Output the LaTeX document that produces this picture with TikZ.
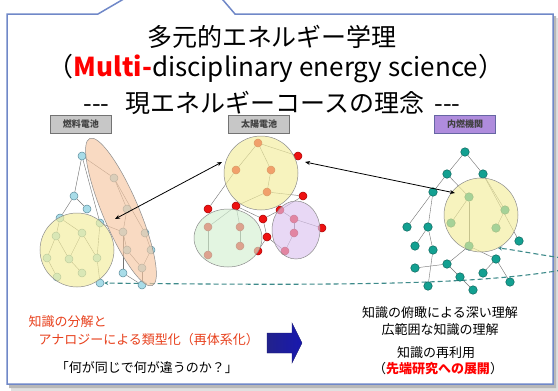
\documentclass[tikz,border=0pt]{standalone}
\usepackage{fontspec}
\setmainfont{Noto Sans CJK JP}
\usetikzlibrary{arrows.meta,positioning,calc}

\definecolor{framecol}{HTML}{7088C8}
\definecolor{fcfill}{HTML}{A8DCE8}
\definecolor{fcline}{HTML}{5F8F9F}
\definecolor{scfill}{HTML}{EE1111}
\definecolor{scline}{HTML}{AA0000}
\definecolor{icfill}{HTML}{13A091}
\definecolor{icline}{HTML}{0B655C}
\definecolor{yellowreg}{HTML}{F4EE9C}
\definecolor{orangereg}{HTML}{F6C7A2}
\definecolor{greenreg}{HTML}{D4F0D2}
\definecolor{purplereg}{HTML}{DDC4F0}
\definecolor{dashcol}{HTML}{3D8A8A}
\definecolor{textred}{HTML}{E8401C}
\definecolor{navy}{HTML}{22228C}

\pgfdeclarelayer{bg}
\pgfsetlayers{bg,main}

\begin{document}
\begin{tikzpicture}[x=1pt,y=-1pt,
    fcnode/.style={circle,draw=fcline,fill=fcfill,inner sep=0pt,minimum size=8pt,line width=0.5pt},
    scnode/.style={circle,draw=scline,fill=scfill,inner sep=0pt,minimum size=8pt,line width=0.5pt},
    icnode/.style={circle,draw=icline,fill=icfill,inner sep=0pt,minimum size=8.5pt,line width=0.5pt},
    edge/.style={draw=black!55,line width=0.4pt},
    region/.style={draw=black!45,line width=0.5pt,fill opacity=0.65},
    tag/.style={draw=black!55,fill=black!22,inner sep=0pt,minimum width=61pt,minimum height=18pt,font=\fontsize{9}{10}\selectfont\bfseries,text=black!75},
    link/.style={{Stealth[length=5pt,width=4pt]}-{Stealth[length=5pt,width=4pt]},line width=0.8pt},
    flow/.style={dashcol,line width=1.1pt,dash pattern=on 5pt off 3pt}]
    \useasboundingbox (0,0) rectangle (558,391);
    \clip (0,0) rectangle (558,391);

    % title
    \node (title) at (272,37) {\fontsize{25}{30}\selectfont 多元的エネルギー学理};
    \node (subtitle) at (276,69) {\fontsize{26}{30}\selectfont （{\bfseries\color{red}Multi-}disciplinary energy science）};
    \node (motto) at (272,103) {\fontsize{25}{30}\selectfont -{}-{}-\hspace{16pt}現エネルギーコースの理念\hspace{10pt}-{}-{}-};

    % tags
    \node[tag] (fctag) at (81,124) {燃料電池};
    \node[tag] (sctag) at (259,124) {太陽電池};
    \node[tag,fill=blue!40!violet!45,draw=blue!40!black!60] (ictag) at (465,124) {内燃機関};

    % fuel cell
    \foreach \n/\x/\y in {0/82/156,1/74/196,2/87/209,3/60/218,4/100/223,5/56/236,6/82/233,
      7/47/258,8/69/259,9/97/258,10/57/277,11/82/273,12/100/283,13/123/273,14/142/285,
      15/114/178,16/127/209,17/123/232,18/145/233,19/127/250,20/151/250,21/142/268}
      \node[fcnode] (fc\n) at (\x,\y) {};

    % solar cell
    \foreach \n/\x/\y in {0/258/143,1/298/156,2/236/170,3/271/170,4/267/192,5/303/196,
      6/208/209,7/236/206,8/280/210,9/263/219,10/294/219,11/322/228,12/294/233,
      13/208/227,14/240/227,15/267/237,16/240/246,17/208/255,18/258/251,19/285/251}
      \node[scnode] (sc\n) at (\x,\y) {};

    % internal combustion engine
    \foreach \n/\x/\y in {0/465/152,1/447/174,2/483/174,3/433/192,4/469/197,5/505/210,
      6/451/223,7/496/228,8/469/246,9/519/241,10/407/227,11/428/227,12/415/246,
      13/433/250,14/415/268,15/447/264,16/460/277,17/483/273,18/496/259,19/510/282,
      20/428/286,21/473/290}
      \node[icnode] (ic\n) at (\x,\y) {};

    \coordinate (flowend) at (562,270);
    \coordinate (flowtop) at (562,258);
    \coordinate (fcin) at (115,219);
    \coordinate (scinl) at (222,162);
    \coordinate (scinr) at (305,162);
    \coordinate (icin) at (455,193);

    \begin{pgfonlayer}{bg}
      % frame with shadow
      \fill[black!12] (11,18) -- (102,18) -- (150,-10) -- (215,-10) -- (239,18) -- (558,18) -- (558,391) -- (11,391) -- cycle;
      \fill[black!28] (9,16) -- (100,16) -- (148,-12) -- (213,-12) -- (237,16) -- (556,16) -- (556,388) -- (9,388) -- cycle;
      \draw[framecol,fill=white,line width=1.5pt] (7,14) -- (98,14) -- (146,-14) -- (211,-14) -- (235,14) -- (553,14) -- (553,384) -- (7,384) -- cycle;

      \foreach \u/\v in {0/1,0/4,0/15,1/2,1/3,3/5,3/6,5/7,5/8,6/8,6/9,7/10,8/11,9/12,
        4/9,4/17,15/16,15/18,16/17,17/19,18/20,19/21,20/21,17/13,21/14,13/14}
        \path[edge] (fc\u) -- (fc\v);
      \foreach \u/\v in {0/1,0/2,0/3,3/4,2/6,4/7,4/5,7/13,7/14,7/9,13/17,14/16,9/15,
        9/8,8/10,10/11,10/12,5/8,15/19,12/19,15/18}
        \path[edge] (sc\u) -- (sc\v);
      \foreach \u/\v in {0/1,0/2,1/3,1/4,2/9,2/5,3/10,3/11,11/12,11/13,4/6,4/8,5/7,
        8/15,8/18,15/14,15/16,16/21,18/17,18/19,13/20}
        \path[edge] (ic\u) -- (ic\v);
      % dashed links to the right
      \draw[flow,-{Stealth[length=4pt,width=4pt]}] (flowend) .. controls (480,284) and (360,286) .. (fc12);
      \draw[flow,-{Stealth[length=4pt,width=4pt]}] (flowtop) .. controls (535,254) and (515,250) .. (498,248);
    \end{pgfonlayer}

    % knowledge regions
    \path[region,fill=yellowreg] (77,250) circle [radius=37];
    \path[region,fill=orangereg,rotate around={-67:(121,212)}] (121,212) ellipse [x radius=80, y radius=18];
    \path[region,fill=yellowreg] (261,173) circle [radius=37];
    \path[region,fill=greenreg] (228,238) ellipse [x radius=34, y radius=29];
    \path[region,fill=purplereg] (296,230) ellipse [x radius=24, y radius=29];
    \path[region,fill=yellowreg] (481,215) circle [radius=37];

    \draw[link] (fcin) -- (scinl);
    \draw[link] (scinr) -- (icin);

    % bottom texts
    \node[anchor=west,text=textred,font=\fontsize{13}{15}\selectfont] (decomp) at (25,322) {知識の分解と};
    \node[anchor=west,text=textred,font=\fontsize{13}{15}\selectfont] (analogy) at (35,340) {アナロジーによる類型化（再体系化）};
    \node[font=\fontsize{13}{15}\selectfont] (question) at (147,368) {「何が同じで何が違うのか？」};

    \shade[left color=navy,right color=navy!70!blue,draw=navy!80!black,line width=0.4pt]
      (267,333) -- (292,333) -- (292,323) -- (302,343) -- (292,363) -- (292,353) -- (267,353) -- cycle;

    \node[font=\fontsize{13}{15}\selectfont] (overview) at (440,313) {知識の俯瞰による深い理解};
    \node[font=\fontsize{13}{15}\selectfont] (breadth) at (440,330) {広範囲な知識の理解};
    \node[font=\fontsize{13}{15}\selectfont] (reuse) at (436,353) {知識の再利用};
    \node[font=\fontsize{13}{15}\selectfont] (frontier) at (438,369) {（{\bfseries\color{red}先端研究への展開}）};
\end{tikzpicture}
\end{document}
